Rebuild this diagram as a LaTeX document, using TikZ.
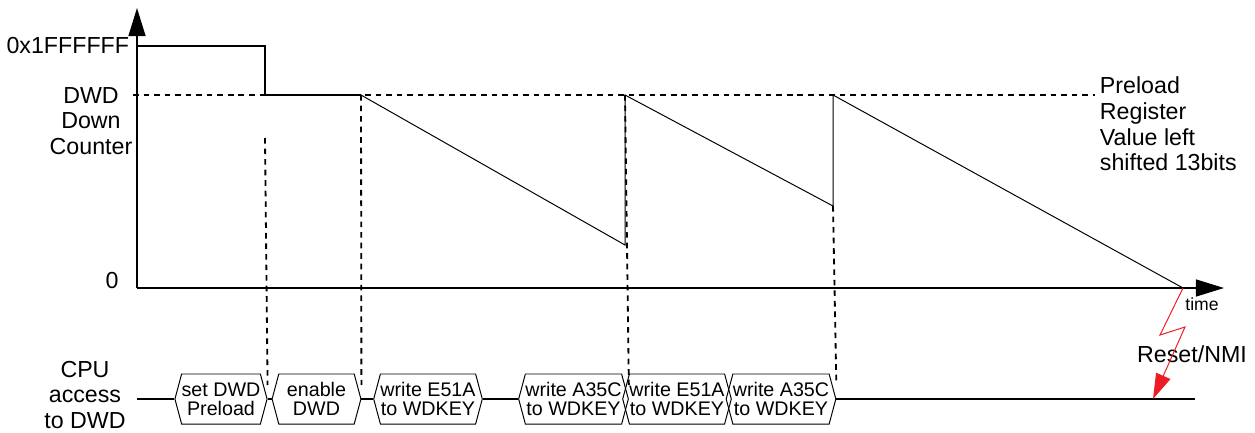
\documentclass[tikz,border=0pt]{standalone}
\usepackage{fontspec}
\setmainfont{Liberation Sans}
\usetikzlibrary{arrows.meta,shapes.symbols,positioning,calc}
\definecolor{nmired}{RGB}{237,28,36}

\tikzset{
  axis/.style={line width=1.4pt,-{Triangle[length=20pt,width=12pt]}},
  level/.style={line width=1.3pt},
  ramp/.style={line width=0.7pt},
  guide/.style={line width=1.3pt,dash pattern=on 4pt off 3.5pt},
  bus/.style={line width=1.3pt},
  access/.style={draw,line width=0.7pt,signal,signal to=east and west,
    signal pointer angle=150,minimum height=1.25cm,inner sep=0pt,
    align=center,font=\fontsize{14}{13.5}\selectfont},
  lbl/.style={align=center,font=\fontsize{16.5}{18.2}\selectfont},
}

\begin{document}
\begin{tikzpicture}[x=0.025cm,y=-0.025cm]
\useasboundingbox (0,0) rectangle (1255,433);

% axes
\coordinate (origin) at (137,288);
\coordinate (ytop) at (137,8);
\coordinate (xend) at (1224,288);
\draw[axis] (origin) -- (ytop);
\draw[axis] (origin) -- (xend);

% counter value
\coordinate (max1) at (137,46);
\coordinate (max2) at (265,46);
\coordinate (dwd1) at (265,95);
\coordinate (en) at (361,95);
\coordinate (low1) at (625,245);
\coordinate (top1) at (625,95);
\coordinate (low2) at (833,206);
\coordinate (top2) at (833,95);
\coordinate (zero) at (1183,288);
\draw[level] (max1) -- (max2) -- (dwd1) -- (en);
\draw[ramp] (en) -- (low1) -- (top1) -- (low2) -- (top2) -- (zero);

% labels
\node[lbl,anchor=east] (maxlab) at (134,46) {0x1FFFFFF};
\node[lbl] (dwdlab) at (91,121) {DWD\\Down\\Counter};
\node[lbl] (zerolab) at (112,281) {0};
\node[lbl] (cpulab) at (85,395) {CPU\\access\\to DWD};
\node[lbl,align=left,anchor=west] (prelab) at (1095,124) {Preload\\Register\\Value left\\shifted 13bits};
\node[font=\fontsize{12.5}{14}\selectfont] (timelab) at (1202,304) {time};
\node[lbl] (nmilab) at (1192,354) {Reset/NMI};

% CPU accesses
\node[access,minimum width=2.25cm] (setpre) at (221,399) {set DWD\\Preload};
\node[access,minimum width=2.22cm] (enable) at (316.5,399) {enable\\DWD};
\node[access,minimum width=2.6cm] (keyE1) at (428,399) {write E51A\\to WDKEY};
\node[access,minimum width=2.58cm] (keyA1) at (573.5,399) {write A35C\\to WDKEY};
\node[access,minimum width=2.6cm] (keyE2) at (677,399) {write E51A\\to WDKEY};
\node[access,minimum width=2.6cm] (keyA2) at (781,399) {write A35C\\to WDKEY};

\coordinate (busstart) at (137,399);
\coordinate (busend) at (1195,399);
\coordinate (nmi) at (1153,399);
\draw[bus] (busstart) -- (setpre.west);
\draw[bus] (setpre.east) -- (enable.west);
\draw[bus] (enable.east) -- (keyE1.west);
\draw[bus] (keyE1.east) -- (keyA1.west);
\draw[bus] (keyA2.east) -- (busend);

% guides
\draw[guide] (133,95) -- (prelab.west |- en);
\draw[guide] (265,138) -- ([yshift=0.35cm]setpre.east);
\draw[guide] (en) -- ([yshift=0.35cm]enable.east);
\draw[guide] (top1) -- ([yshift=0.35cm]keyA1.east);
\draw[guide] (low2) -- ([yshift=0.35cm]keyA2.east);

% reset
\draw[nmired,line width=0.7pt,-{Triangle[length=18pt,width=11pt]}]
  (zero) -- (1160,335) -- (1185,327) -- (nmi);
\end{tikzpicture}
\end{document}
